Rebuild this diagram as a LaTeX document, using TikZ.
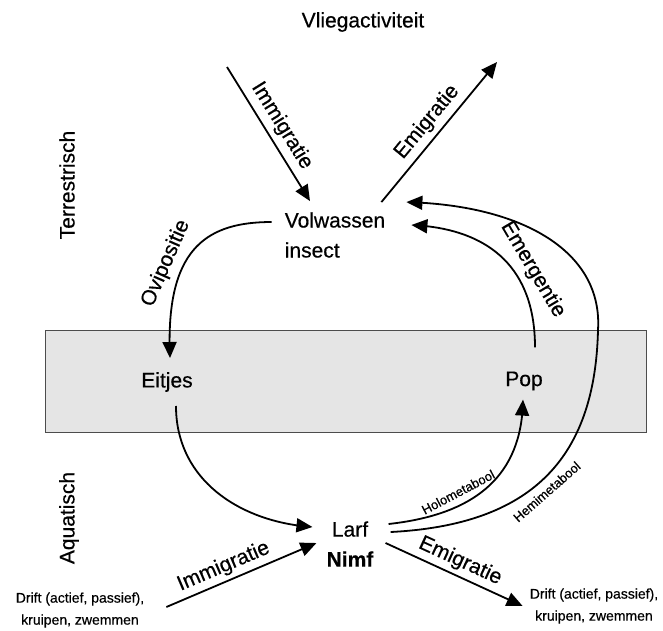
\documentclass[tikz,border=0pt]{standalone}
\usepackage{fontspec}
\setmainfont{Liberation Sans}[FakeBold=0.5]
\usetikzlibrary{arrows.meta,bending}

\begin{document}
\begin{tikzpicture}[x=1pt,y=-1pt,
  lbl/.style={inner sep=0,font=\fontsize{21}{30}\selectfont},
  small/.style={inner sep=0,font=\fontsize{13}{15}\selectfont},
  drift/.style={inner sep=0,align=center,font=\fontsize{14}{22}\selectfont},
  arr/.style={line width=1.8pt,-{Triangle[length=16pt,width=14pt]}}]
  \useasboundingbox (0,0) rectangle (663,630);
  % water surface
  \draw[fill=black!10,draw=black!70] (45,330) rectangle (646,432);

  \node[lbl] (vlieg) at (363,22) {Vliegactiviteit};
  \node[lbl,rotate=90] (terr) at (67,185) {Terrestrisch};
  \node[lbl,rotate=90] (aqua) at (69,518) {Aquatisch};

  \node[lbl,align=left] (volw) at (335,235) {Volwassen\\insect};
  \node[lbl] (eitjes) at (167,382) {Eitjes};
  \node[lbl] (pop) at (524,381) {Pop};
  \node[lbl,align=center] (larf) at (350,544) {Larf\\\textbf{Nimf}};
  \node[drift] (driftL) at (80,610) {Drift (actief, passief),\\kruipen, zwemmen};
  \node[drift] (driftR) at (594,606) {Drift (actief, passief),\\kruipen, zwemmen};

  \coordinate (immIn) at (227,67);
  \coordinate (emiOut) at (497,62);

  % vliegen
  \draw[arr] (immIn) -- node[lbl,sloped,above=5pt] (immT) {Immigratie} ([shift={(-25,-11)}]volw.north);
  \draw[arr] ([shift={(-4,-10)}]volw.north east) -- node[lbl,sloped,above=5pt] (emiT) {Emigratie} (emiOut);

  % levenscyclus
  \draw[arr] ([shift={(-13,-13)}]volw.west) .. controls (205,222) and (165,250) .. node[lbl,sloped,above=6pt,pos=.64] (ovi) {Ovipositie} ([shift={(3,-14)}]eitjes.north);
  \draw[arr] ([shift={(9,14)}]eitjes.south) .. controls (176,480) and (240,522) .. ([shift={(-14,-17)}]larf.west);
  \draw[arr] ([shift={(15,-20)}]larf.east) .. controls (470,515) and (522,480) .. node[small,sloped,above=7pt,pos=.36] (holo) {Holometabool} ([shift={(-1,9)}]pop.south);
  \draw[arr] ([shift={(17,-12)}]larf.east) .. controls (530,525) and (595,460) .. node[small,sloped,below=6pt,pos=.47] (hemi) {Hemimetabool} (598,330) .. controls (603,250) and (520,205) .. ([shift={(21,-10)}]volw.north east);
  \draw[arr] ([shift={(11,-24)}]pop.north) .. controls (535,260) and (480,228) .. node[lbl,sloped,above=6pt,pos=.33] (emer) {Emergentie} ([shift={(26,-10)}]volw.east);

  % drift
  \draw[arr] ([shift={(22,-3)}]driftL.east) -- node[lbl,sloped,above=4pt,pos=.42] (immA) {Immigratie} ([shift={(-10,-1)}]larf.west);
  \draw[arr] ([shift={(12,-1)}]larf.east) -- node[lbl,sloped,above=4pt] (emiA) {Emigratie} ([xshift=-7pt]driftR.west);
\end{tikzpicture}
\end{document}
